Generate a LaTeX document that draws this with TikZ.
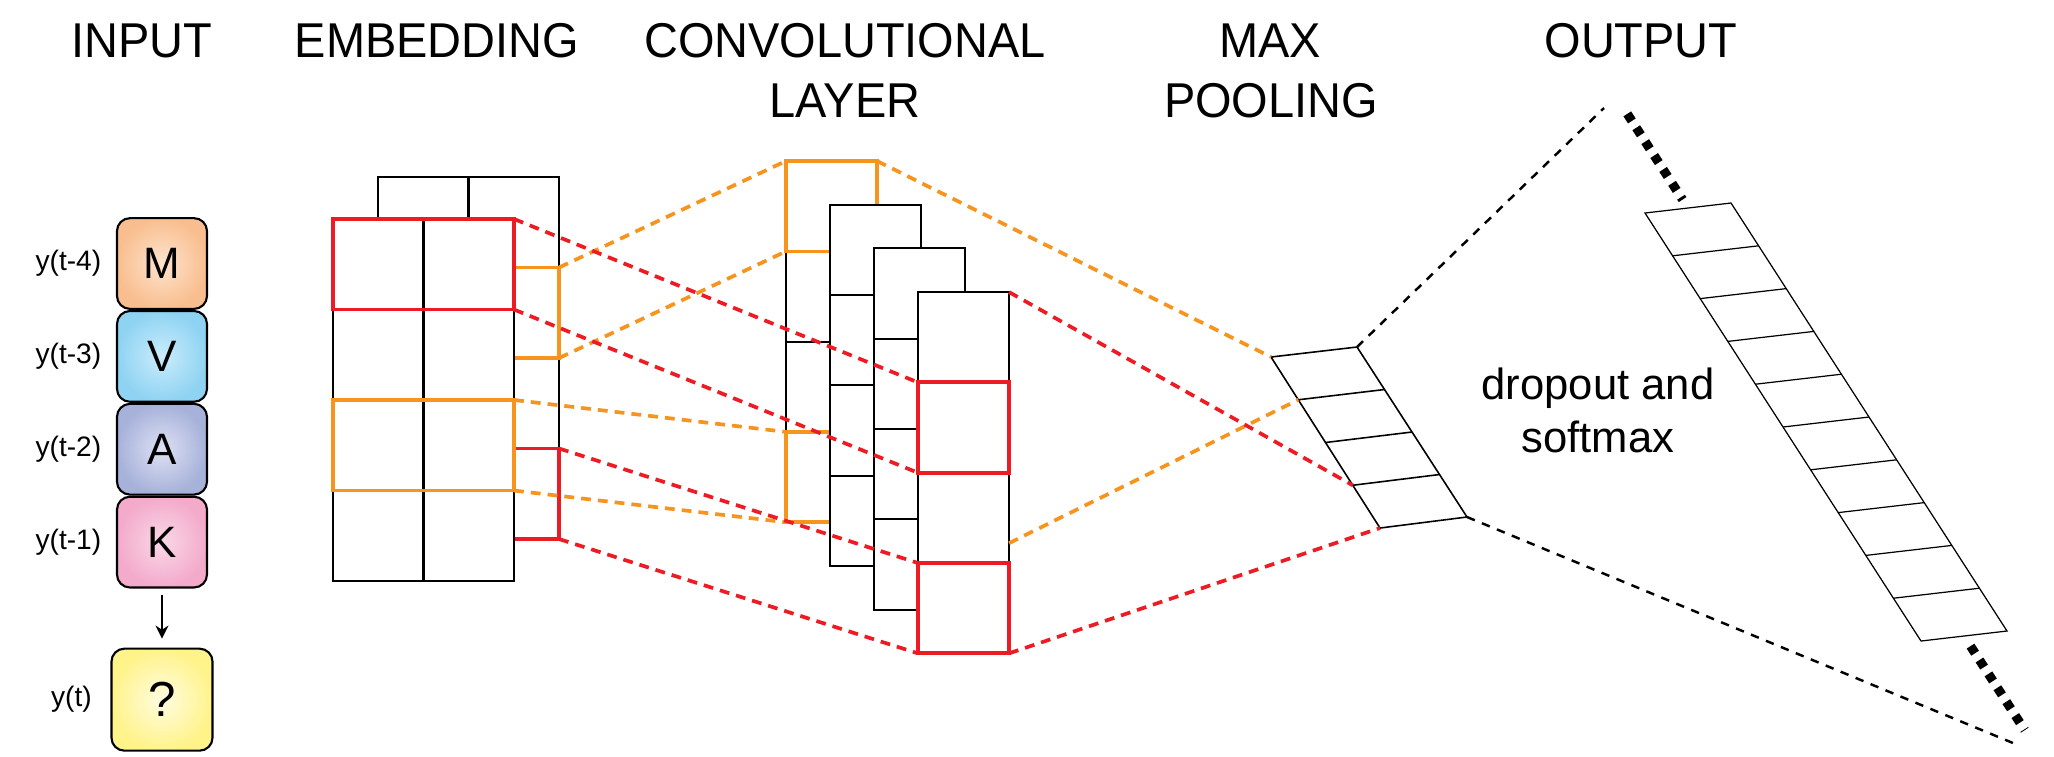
\documentclass[tikz,border=0pt]{standalone}
\usepackage{xcolor}
\usepackage{tikz}
\usepackage{fontspec}
\setmainfont{Liberation Sans}
\newfontfamily\headfont[FakeStretch=0.96]{Liberation Sans}
\usetikzlibrary{arrows.meta, positioning, calc}

\definecolor{hlred}{HTML}{ED1C24}
\definecolor{hlorange}{HTML}{F7941D}

\tikzset{
    head/.style={font=\headfont\fontsize{13.9}{16}\selectfont, inner sep=0pt, anchor=base},
    tok/.style={rectangle, draw=black, line width=0.6pt, rounded corners=0.13cm,
        minimum width=0.9cm, minimum height=0.907cm, inner sep=0pt,
        font=\fontsize{12.5}{14}\selectfont},
    lbl/.style={font=\fontsize{8}{9.5}\selectfont, inner sep=0pt},
    cell/.style={rectangle, draw=black, fill=white, line width=0.6pt, inner sep=0pt,
        outer sep=0pt, minimum width=0.905cm, minimum height=0.905cm},
    fmap/.style={cell, minimum width=0.91cm, minimum height=0.903cm},
    redbox/.style={draw=hlred, line width=1.1pt},
    orabox/.style={draw=hlorange, line width=1pt},
    redline/.style={draw=hlred, line width=1.05pt, dash pattern=on 2.8pt off 2pt},
    oraline/.style={draw=hlorange, line width=1.05pt, dash pattern=on 2.8pt off 2pt},
    blkline/.style={draw=black, line width=0.7pt, dash pattern=on 2.4pt off 2.2pt},
    depth/.style={draw=black, line width=2.6pt, dash pattern=on 2.4pt off 2.3pt},
    thinbox/.style={draw=black, line width=0.45pt},
}

\begin{document}
\begin{tikzpicture}[x=0.01cm, y=-0.01cm]
    \useasboundingbox (0,0) rectangle (2054,756);

    % Titoli
    \node[head] (hin) at (142,57) {INPUT};
    \node[head] (hemb) at (437,57) {EMBEDDING};
    \node[head] (hconv) at (845,57) {CONVOLUTIONAL};
    \node[head] (hconvb) at (845,117) {LAYER};
    \node[head] (hpool) at (1270,57) {MAX};
    \node[head] (hpoolb) at (1271,117) {POOLING};
    \node[head] (hout) at (1641,57) {OUTPUT};

    % Input
    \node[tok, inner color={rgb,255:red,253;green,228;blue,206}, outer color={rgb,255:red,249;green,190;blue,143}] (M) at (162,263.5) {M};
    \node[tok, inner color={rgb,255:red,202;green,236;blue,252}, outer color={rgb,255:red,143;green,211;blue,242}, below=0pt of M] (V) {V};
    \node[tok, inner color={rgb,255:red,222;green,225;blue,243}, outer color={rgb,255:red,167;green,178;blue,218}, below=0pt of V] (A) {A};
    \node[tok, inner color={rgb,255:red,250;green,216;blue,231}, outer color={rgb,255:red,243;green,170;blue,203}, below=0pt of A] (K) {K};
    \node[tok, minimum width=1.01cm, minimum height=1.02cm, font=\fontsize{14}{16}\selectfont, inner color={rgb,255:red,255;green,252;blue,224}, outer color={rgb,255:red,255;green,243;blue,138}, below=0.59cm of K] (q) {?};
    \node[lbl, left=0.14cm of M] (lM) {y(t-4)};
    \node[lbl, left=0.14cm of V] (lV) {y(t-3)};
    \node[lbl, left=0.14cm of A] (lA) {y(t-2)};
    \node[lbl, left=0.14cm of K] (lK) {y(t-1)};
    \node[lbl, left=0.18cm of q] (lq) {y(t)};
    \draw[-{Stealth[length=0.13cm,width=0.13cm]}, line width=0.5pt, shorten <=0.06cm, shorten >=0.09cm] (K) -- (q);

    % Embedding
    \foreach \r in {1,...,4}
        \foreach \c in {1,2}
            \node[cell] (embb-\r-\c) at ({378+90.5*(\c-0.5)},{177+90.5*(\r-0.5)}) {};
    \draw[orabox] (embb-2-1.north west) rectangle (embb-2-2.south east);
    \draw[redbox] (embb-4-1.north west) rectangle (embb-4-2.south east);
    \foreach \r in {1,...,4}
        \foreach \c in {1,2}
            \node[cell] (embf-\r-\c) at ({333+90.5*(\c-0.5)},{219+90.5*(\r-0.5)}) {};
    \draw[redbox] (embf-1-1.north west) rectangle (embf-1-2.south east);
    \draw[orabox] (embf-3-1.north west) rectangle (embf-3-2.south east);

    % Convolutional layer
    \foreach \r in {1,...,4}
        \node[fmap] (cv0-\r) at (831.5,{161+90.3*(\r-0.5)}) {};
    \draw[orabox] (cv0-1.north west) rectangle (cv0-1.south east);
    \draw[orabox] (cv0-4.north west) rectangle (cv0-4.south east);
    \foreach \m in {1,2,3}
        \foreach \r in {1,...,4}
            \node[fmap] (cv\m-\r) at ({831.5+44*\m},{161+43.7*\m+90.3*(\r-0.5)}) {};
    \draw[redbox] (cv3-2.north west) rectangle (cv3-2.south east);
    \draw[redbox] (cv3-4.north west) rectangle (cv3-4.south east);
    \coordinate (cvexit) at ($(cv3-3.north east)!0.78!(cv3-3.south east)$);

    % Max pooling
    \coordinate (mptl) at (1271,357);
    \coordinate (mptr) at (1357,347);
    \coordinate (mpbl) at (1380,528);
    \coordinate (mpbr) at (1467,517);
    \draw[thinbox] (mptl) -- (mptr) -- (mpbr) -- (mpbl) -- cycle;
    \foreach \i [evaluate=\i as \f using \i/4] in {1,2,3} {
        \coordinate (mpl\i) at ($(mptl)!\f!(mpbl)$);
        \draw[thinbox] (mpl\i) -- ($(mptr)!\f!(mpbr)$);
    }

    % Output
    \coordinate (otl) at (1645,213);
    \coordinate (otr) at (1731,203);
    \coordinate (obl) at (1921,641);
    \coordinate (obr) at (2007,631);
    \draw[thinbox, line width=0.35pt] (otl) -- (otr) -- (obr) -- (obl) -- cycle;
    \foreach \i [evaluate=\i as \f using \i/10] in {1,...,9}
        \draw[thinbox, line width=0.35pt] ($(otl)!\f!(obl)$) -- ($(otr)!\f!(obr)$);
    \coordinate (otm) at ($(otl)!0.5!(otr)$);
    \coordinate (obm) at ($(obl)!0.5!(obr)$);
    \coordinate (fartop) at ($(otm)!-0.22!(obm)$);
    \coordinate (farbot) at ($(obm)!-0.22!(otm)$);
    \coordinate (apextop) at (1604,108);
    \coordinate (apexbot) at (2013,743);

    % Collegamenti embedding -> convoluzione
    \draw[oraline] (embb-2-2.north east) -- (cv0-1.north west);
    \draw[oraline] (embb-2-2.south east) -- (cv0-1.south west);
    \draw[oraline] (embf-3-2.north east) -- (cv0-4.north west);
    \draw[oraline] (embf-3-2.south east) -- (cv0-4.south west);
    \draw[redline] (embf-1-2.north east) -- (cv3-2.north west);
    \draw[redline] (embf-1-2.south east) -- (cv3-2.south west);
    \draw[redline] (embb-4-2.north east) -- (cv3-4.north west);
    \draw[redline] (embb-4-2.south east) -- (cv3-4.south west);

    % Collegamenti convoluzione -> pooling
    \draw[oraline] (cv0-1.north east) -- (mptl);
    \draw[oraline] (cvexit) -- (mpl1);
    \draw[redline] (cv3-1.north east) -- (mpl3);
    \draw[redline] (cv3-4.south east) -- (mpbl);

    % Pooling -> output
    \draw[blkline] (mptr) -- (apextop);
    \draw[blkline] (mpbr) -- (apexbot);
    \draw[depth, shorten >=0.1cm] (fartop) -- (otm);
    \draw[depth, shorten <=0.12cm] (obm) -- (farbot);

    \node[font=\fontsize{12.4}{15.1}\selectfont, align=center] (drop) at (1598,410) {dropout and\\softmax};
\end{tikzpicture}
\end{document}
